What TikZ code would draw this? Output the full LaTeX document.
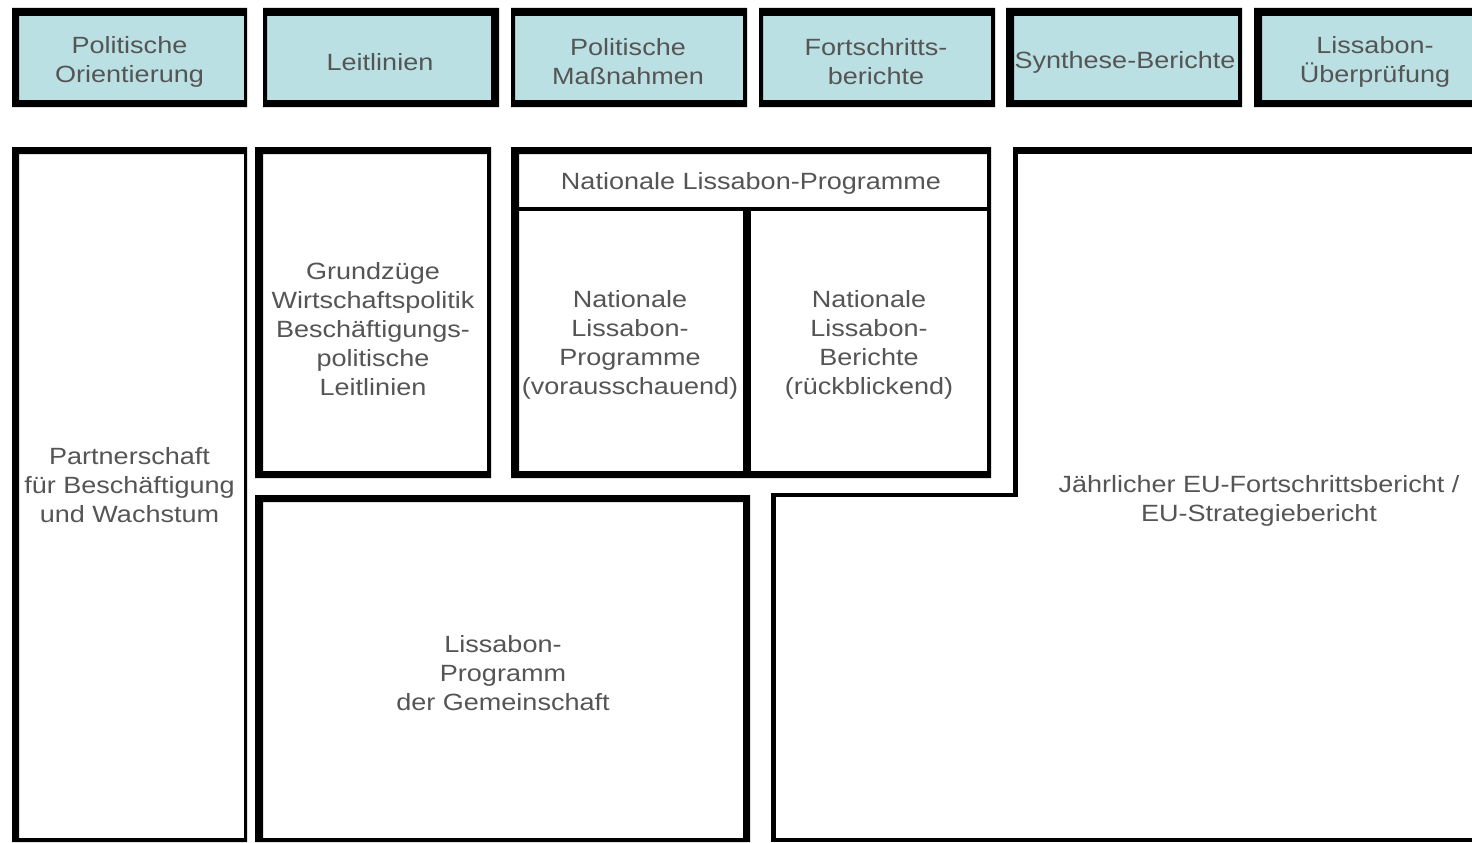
\documentclass[tikz,border=0pt]{standalone}
\usepackage{fontspec}
\setmainfont{Liberation Sans}[FakeStretch=1.15]
\definecolor{headfill}{RGB}{187,224,227}
\definecolor{txtgray}{RGB}{85,85,85}
% frame: x1 y1 x2 y2 left top right bottom fill
\newcommand\frm[9]{%
  \fill[#9] ({#1+#5},{#2+#6}) rectangle ({#3-#7},{#4-#8});
  \fill[black,even odd rule] (#1,#2) rectangle (#3,#4) ({#1+#5},{#2+#6}) rectangle ({#3-#7},{#4-#8});}
\begin{document}
\begin{tikzpicture}[x=1pt,y=-1pt,
  lbl/.style={align=center, text=txtgray, font=\fontsize{23.5}{29}\selectfont, inner sep=0pt}]
\useasboundingbox (0,0) rectangle (1472,843);
\clip (0,0) rectangle (1472,843);
\fill[white] (0,0) rectangle (1472,843);
% header boxes
\frm{12}{8}{247}{107}{7}{8}{3}{7}{headfill}
\frm{263}{8}{499}{107}{4}{8}{8}{7}{headfill}
\frm{511}{8}{747}{107}{4}{8}{4}{7}{headfill}
\frm{759}{8}{995}{107}{4}{8}{4}{7}{headfill}
\frm{1006}{8}{1242}{107}{8}{8}{4}{7}{headfill}
\frm{1254}{8}{1500}{107}{8}{8}{4}{7}{headfill}
% lower boxes
\frm{12}{147}{247}{842}{7}{7}{3}{4}{white}
\frm{255}{147}{491}{478}{8}{7}{4}{7}{white}
\frm{511}{147}{991}{478}{8}{7}{4}{7}{white}
\fill (519,207) rectangle (987,211);
\fill (743,211) rectangle (751,471);
\frm{255}{495}{750}{842}{8}{7}{7}{4}{white}
% L-shaped box
\fill (1013,147) rectangle (1500,154);
\fill (1013,147) rectangle (1018,497);
\fill (771,493) rectangle (1018,497);
\fill (771,493) rectangle (776,842);
\fill (771,838) rectangle (1500,842);
% texts
\node[lbl] (h1) at (129.5,62) {Politische\\Orientierung};
\node[lbl] (h2) at (380,62) {Leitlinien};
\node[lbl] (h3) at (628,62) {Politische\\Maßnahmen};
\node[lbl] (h4) at (876,62) {Fortschritts-\\berichte};
\node[lbl] (h5) at (1125,62) {Synthese-Berichte};
\node[lbl] (h6) at (1375,62) {Lissabon-\\Überprüfung};
\node[lbl] (pw) at (129.5,485) {Partnerschaft\\für Beschäftigung\\und Wachstum};
\node[lbl] (gz) at (373,329) {Grundzüge\\Wirtschaftspolitik\\Beschäftigungs-\\politische\\Leitlinien};
\node[lbl] (nlp) at (751,183) {Nationale Lissabon-Programme};
\node[lbl] (nlpv) at (630,345) {Nationale\\Lissabon-\\Programme\\(vorausschauend)};
\node[lbl] (nlb) at (869,345) {Nationale\\Lissabon-\\Berichte\\(rückblickend)};
\node[lbl] (lpg) at (503,673) {Lissabon-\\Programm\\der Gemeinschaft};
\node[lbl] (eu) at (1259,501) {Jährlicher EU-Fortschrittsbericht /\\EU-Strategiebericht};
\end{tikzpicture}
\end{document}
